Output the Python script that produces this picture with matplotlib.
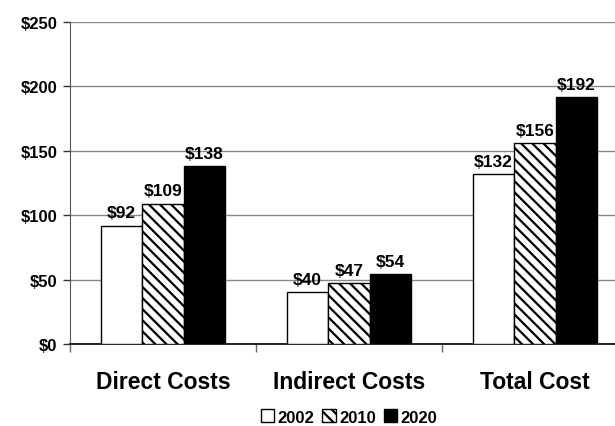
import matplotlib
matplotlib.use("Agg")
import matplotlib.pyplot as plt
import numpy as np
from matplotlib.patches import Patch

categories = ["Direct Costs", "Indirect Costs", "Total Cost"]
years = ["2002", "2010", "2020"]
v2002 = [92, 40, 132]
v2010 = [109, 47, 156]
v2020 = [138, 54, 192]
yticks = [0, 50, 100, 150, 200, 250]

plt.rcParams['font.family'] = ['Liberation Sans', 'DejaVu Sans']
plt.rcParams['hatch.linewidth'] = 1.6

fig = plt.figure(figsize=(6.15, 4.27), dpi=100)
ax = fig.add_axes([70/615, 1-345/427, 1-70/615, (345-23)/427])

x = np.arange(len(categories))
w = 0.223
series = [v2002, v2010, v2020]
styles = [dict(facecolor='white', hatch=None),
          dict(facecolor='white', hatch='\\\\\\'),
          dict(facecolor='black', hatch=None)]
for i, (vals, st) in enumerate(zip(series, styles)):
    pos = x + (i - 1) * w
    ax.bar(pos, vals, width=w, facecolor=st['facecolor'], edgecolor='black',
           hatch=st['hatch'], linewidth=1.0, zorder=3)
    for p, v in zip(pos, vals):
        ax.text(p, v + 4, f"${v}", ha='center', va='bottom', fontsize=12.5,
                fontweight='bold', zorder=4)

ax.set_yticks(yticks)
ax.set_yticklabels([f"${t}" for t in yticks], fontsize=12, fontweight='bold')
ax.yaxis.grid(True, color='#888888', linewidth=1.0, zorder=0)
ax.set_axisbelow(True)
for s in ['top', 'right']:
    ax.spines[s].set_visible(False)
ax.spines['left'].set_color('#555555')
ax.spines['bottom'].set_color('black')
ax.spines['bottom'].set_linewidth(1.2)
ax.tick_params(axis='y', length=5, width=1, pad=4, color='#333333')

# category boundary ticks
ax.set_xticks([-0.5, 0.5, 1.5, 2.5])
ax.set_xticklabels([])
ax.tick_params(axis='x', length=6, width=1, color='#666666', direction='out')
ax.set_ylim(0, 250)
ax.set_xlim(-0.5, (615-70)/186 - 0.5)
for xi, c in zip(x, categories):
    ax.text(xi, -0.08, c, transform=ax.get_xaxis_transform(), ha='center',
            va='top', fontsize=16.5, fontweight='bold')

handles = [Patch(facecolor='white', edgecolor='black', label=years[0]),
           Patch(facecolor='white', edgecolor='black', hatch='\\\\\\', label=years[1]),
           Patch(facecolor='black', edgecolor='black', label=years[2])]
fig.legend(handles=handles, loc='center', bbox_to_anchor=(349/615, 1-418/427),
           ncol=3, frameon=False, prop={'weight': 'bold', 'size': 12},
           handlelength=0.8, handleheight=0.8, handletextpad=0.2,
           columnspacing=0.5)

fig.savefig("out.png", dpi=100)
